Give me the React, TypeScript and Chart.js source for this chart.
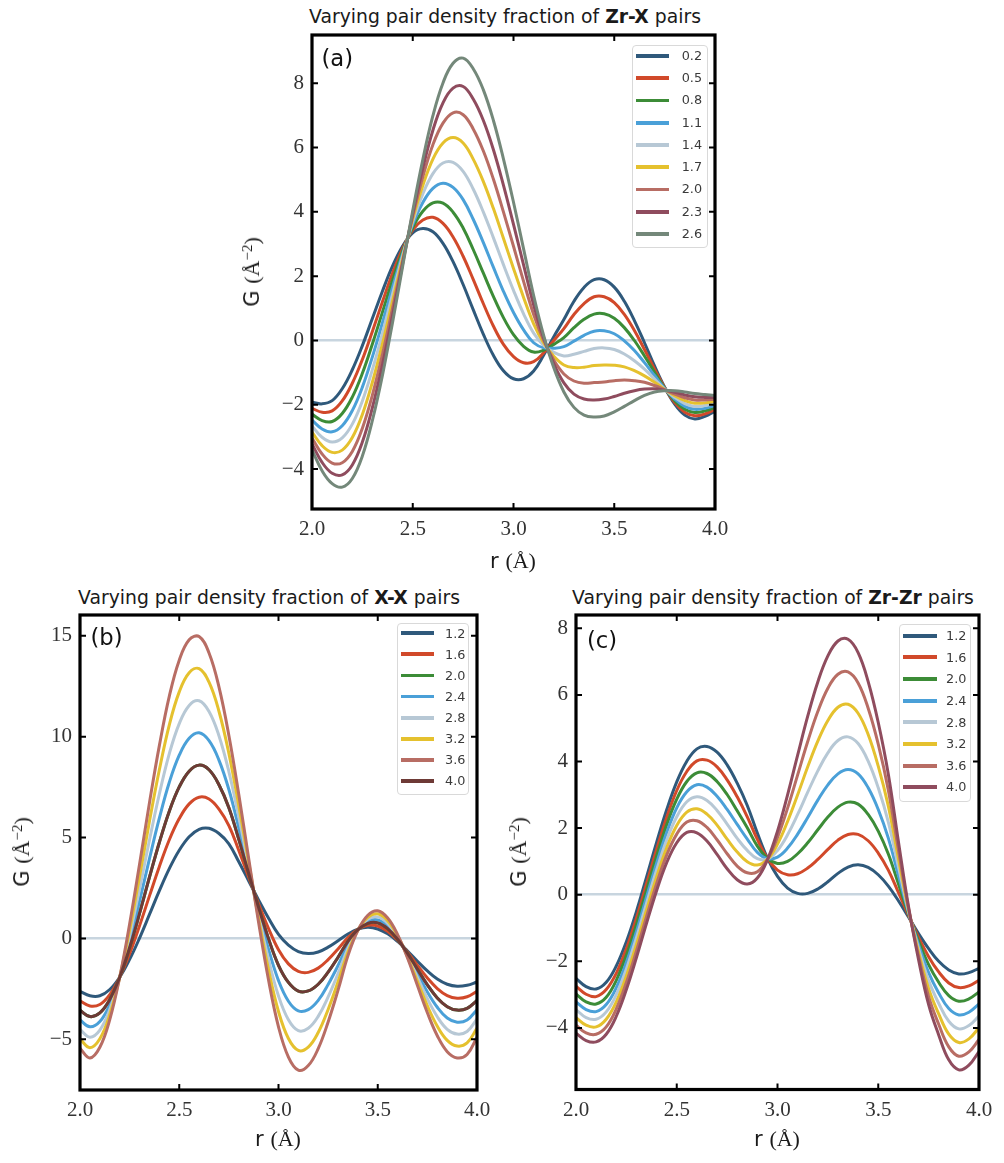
import React, { useEffect, useRef } from "react";
import { Chart, registerables } from "chart.js";

Chart.register(...registerables);

// ---------- shared r grid (Å) ----------
const R_GRID = [
  2.0, 2.05, 2.1, 2.15, 2.2, 2.25, 2.3, 2.35, 2.4, 2.45, 2.5, 2.55, 2.6, 2.65, 2.7, 2.75, 2.8, 2.85, 2.9, 2.95,
  3.0, 3.05, 3.1, 3.15, 3.2, 3.25, 3.3, 3.35, 3.4, 3.45, 3.5, 3.55, 3.6, 3.65, 3.7, 3.75, 3.8, 3.85, 3.9, 3.95, 4.0,
];

// ---------- colours ----------
const C_BLUE = "#2f597b";
const C_RED = "#d1492a";
const C_GREEN = "#3c8c37";
const C_LBLUE = "#4aa0d8";
const C_GRAY = "#b7c8d5";
const C_YELLOW = "#e5c12e";
const C_ROSE = "#b86d64";
const C_PLUM = "#8f4c5e";
const C_GGREEN = "#74887a";
const C_BROWN = "#6e3a36";

// ---------- (a) Zr-X ----------
const ZRX_LABELS = ["0.2", "0.5", "0.8", "1.1", "1.4", "1.7", "2.0", "2.3", "2.6"];
const ZRX_0_2 = [-1.92,-1.97,-1.87,-1.5,-0.91,-0.16,0.69,1.54,2.32,2.94,3.35,3.48,3.38,3.02,2.45,1.74,0.96,0.2,-0.46,-0.94,-1.19,-1.19,-0.95,-0.45,0.12,0.65,1.22,1.65,1.89,1.89,1.66,1.22,0.62,-0.07,-0.79,-1.45,-1.98,-2.32,-2.44,-2.36,-2.2];
const ZRX_0_5 = [-2.11,-2.23,-2.19,-1.88,-1.33,-0.59,0.29,1.21,2.1,2.86,3.44,3.75,3.83,3.64,3.22,2.62,1.9,1.15,0.45,-0.12,-0.5,-0.69,-0.66,-0.38,0.0,0.37,0.81,1.15,1.36,1.36,1.18,0.81,0.31,-0.28,-0.89,-1.46,-1.93,-2.23,-2.34,-2.28,-2.14];
const ZRX_0_8 = [-2.29,-2.49,-2.52,-2.27,-1.76,-1.02,-0.1,0.89,1.88,2.78,3.52,4.02,4.28,4.27,3.99,3.5,2.83,2.1,1.37,0.71,0.18,-0.18,-0.36,-0.3,-0.12,0.09,0.4,0.66,0.82,0.83,0.69,0.4,0.0,-0.48,-0.99,-1.48,-1.87,-2.14,-2.24,-2.19,-2.08];
const ZRX_1_1 = [-2.48,-2.75,-2.84,-2.65,-2.18,-1.45,-0.5,0.56,1.66,2.7,3.61,4.29,4.73,4.89,4.76,4.38,3.77,3.05,2.28,1.53,0.87,0.33,-0.07,-0.23,-0.24,-0.19,-0.02,0.16,0.29,0.3,0.21,-0.01,-0.31,-0.69,-1.09,-1.49,-1.82,-2.05,-2.14,-2.11,-2.02];
const ZRX_1_4 = [-2.66,-3.01,-3.16,-3.03,-2.6,-1.88,-0.9,0.23,1.45,2.63,3.7,4.56,5.19,5.52,5.54,5.26,4.71,4.0,3.2,2.36,1.56,0.83,0.23,-0.15,-0.37,-0.48,-0.43,-0.34,-0.25,-0.23,-0.28,-0.42,-0.63,-0.89,-1.2,-1.51,-1.77,-1.96,-2.05,-2.02,-1.96];
const ZRX_1_7 = [-2.85,-3.27,-3.48,-3.41,-3.02,-2.3,-1.29,-0.09,1.23,2.55,3.78,4.82,5.64,6.14,6.31,6.14,5.64,4.95,4.11,3.18,2.24,1.34,0.52,-0.08,-0.49,-0.76,-0.84,-0.83,-0.78,-0.76,-0.77,-0.82,-0.94,-1.1,-1.3,-1.52,-1.72,-1.87,-1.95,-1.94,-1.89];
const ZRX_2_0 = [-3.03,-3.53,-3.81,-3.8,-3.45,-2.73,-1.69,-0.42,1.01,2.47,3.87,5.09,6.09,6.76,7.08,7.02,6.58,5.9,5.02,4.0,2.93,1.84,0.81,0.0,-0.61,-1.04,-1.26,-1.33,-1.31,-1.29,-1.25,-1.23,-1.25,-1.3,-1.4,-1.53,-1.67,-1.78,-1.85,-1.85,-1.83];
const ZRX_2_3 = [-3.22,-3.79,-4.13,-4.18,-3.87,-3.16,-2.08,-0.74,0.79,2.39,3.95,5.36,6.54,7.39,7.85,7.9,7.51,6.85,5.94,4.83,3.61,2.35,1.11,0.08,-0.73,-1.32,-1.67,-1.82,-1.85,-1.82,-1.74,-1.64,-1.56,-1.51,-1.5,-1.55,-1.61,-1.69,-1.75,-1.77,-1.77];
const ZRX_2_6 = [-3.4,-4.05,-4.45,-4.56,-4.29,-3.59,-2.48,-1.07,0.57,2.31,4.04,5.63,6.99,8.01,8.62,8.78,8.45,7.8,6.85,5.65,4.3,2.85,1.4,0.15,-0.85,-1.6,-2.08,-2.32,-2.38,-2.35,-2.22,-2.05,-1.87,-1.71,-1.6,-1.56,-1.56,-1.6,-1.65,-1.68,-1.71];

// ---------- (b) X-X ----------
const XX_LABELS = ["1.2", "1.6", "2.0", "2.4", "2.8", "3.2", "3.6", "4.0"];
const XX_1_2 = [-2.62,-2.84,-2.84,-2.53,-1.92,-1.04,0.02,1.19,2.37,3.46,4.37,5.04,5.41,5.46,5.2,4.69,3.8,2.85,1.9,1.0,0.2,-0.33,-0.65,-0.75,-0.67,-0.43,-0.11,0.22,0.46,0.55,0.47,0.23,-0.15,-0.62,-1.13,-1.61,-2.01,-2.27,-2.37,-2.32,-2.16];
const XX_1_6 = [-3.09,-3.35,-3.27,-2.78,-1.92,-0.75,0.63,2.11,3.57,4.89,5.94,6.67,7.0,6.91,6.41,5.59,4.36,3.03,1.71,0.49,-0.56,-1.26,-1.63,-1.68,-1.47,-1.05,-0.52,0.04,0.45,0.65,0.62,0.36,-0.09,-0.68,-1.33,-1.96,-2.48,-2.83,-2.96,-2.89,-2.62];
const XX_2_0 = [-3.56,-3.87,-3.69,-3.03,-1.92,-0.45,1.24,3.04,4.77,6.31,7.51,8.29,8.59,8.36,7.62,6.48,4.91,3.22,1.53,-0.02,-1.33,-2.18,-2.61,-2.6,-2.27,-1.67,-0.93,-0.14,0.44,0.75,0.77,0.49,-0.04,-0.74,-1.53,-2.3,-2.95,-3.38,-3.55,-3.46,-3.07];
const XX_2_4 = [-4.04,-4.38,-4.12,-3.27,-1.92,-0.16,1.85,3.96,5.97,7.74,9.08,9.92,10.19,9.8,8.84,7.38,5.47,3.4,1.34,-0.54,-2.09,-3.11,-3.59,-3.53,-3.07,-2.28,-1.34,-0.31,0.43,0.85,0.92,0.62,0.02,-0.8,-1.73,-2.65,-3.41,-3.94,-4.15,-4.04,-3.53];
const XX_2_8 = [-4.51,-4.89,-4.54,-3.52,-1.92,0.13,2.46,4.88,7.17,9.16,10.65,11.55,11.78,11.25,10.05,8.27,6.02,3.58,1.15,-1.05,-2.85,-4.03,-4.57,-4.45,-3.86,-2.9,-1.74,-0.49,0.42,0.95,1.07,0.75,0.08,-0.85,-1.93,-2.99,-3.88,-4.5,-4.74,-4.61,-3.99];
const XX_3_2 = [-4.98,-5.41,-4.97,-3.77,-1.92,0.43,3.07,5.81,8.37,10.59,12.22,13.17,13.37,12.7,11.26,9.17,6.58,3.77,0.97,-1.56,-3.62,-4.96,-5.55,-5.38,-4.66,-3.52,-2.15,-0.67,0.41,1.05,1.22,0.88,0.13,-0.91,-2.13,-3.34,-4.35,-5.05,-5.33,-5.18,-4.44];
const XX_3_6 = [-5.45,-5.92,-5.39,-4.02,-1.92,0.72,3.68,6.73,9.57,12.01,13.79,14.8,14.96,14.15,12.47,10.06,7.13,3.95,0.78,-2.07,-4.38,-5.88,-6.53,-6.3,-5.46,-4.14,-2.56,-0.85,0.4,1.15,1.37,1.01,0.19,-0.97,-2.33,-3.68,-4.82,-5.61,-5.92,-5.75,-4.9];
const XX_4_0 = [-3.56,-3.87,-3.69,-3.03,-1.92,-0.45,1.24,3.04,4.77,6.31,7.51,8.29,8.59,8.36,7.62,6.48,4.91,3.22,1.53,-0.02,-1.33,-2.18,-2.61,-2.6,-2.27,-1.67,-0.93,-0.14,0.44,0.75,0.77,0.49,-0.04,-0.74,-1.53,-2.3,-2.95,-3.38,-3.55,-3.46,-3.07];

// ---------- (c) Zr-Zr ----------
const ZRZR_LABELS = ["1.2", "1.6", "2.0", "2.4", "2.8", "3.2", "3.6", "4.0"];
const ZRZR_1_2 = [-2.51,-2.76,-2.83,-2.63,-2.14,-1.41,-0.5,0.53,1.57,2.55,3.39,4.01,4.38,4.45,4.28,3.9,3.35,2.68,1.85,1.1,0.55,0.2,0.04,0.04,0.17,0.39,0.64,0.83,0.9,0.82,0.6,0.26,-0.18,-0.67,-1.17,-1.62,-2.0,-2.26,-2.38,-2.34,-2.21];
const ZRZR_1_6 = [-2.75,-2.99,-3.06,-2.85,-2.36,-1.62,-0.7,0.33,1.36,2.32,3.13,3.7,4.02,4.04,3.84,3.45,2.94,2.34,1.66,1.09,0.74,0.6,0.63,0.8,1.06,1.36,1.64,1.81,1.81,1.62,1.25,0.74,0.07,-0.62,-1.28,-1.86,-2.32,-2.65,-2.79,-2.74,-2.57];
const ZRZR_2_0 = [-2.98,-3.22,-3.28,-3.08,-2.57,-1.82,-0.9,0.13,1.16,2.1,2.87,3.4,3.66,3.64,3.4,3.01,2.52,2.01,1.46,1.09,0.94,1.0,1.23,1.56,1.95,2.33,2.63,2.78,2.72,2.41,1.91,1.22,0.33,-0.58,-1.39,-2.1,-2.63,-3.03,-3.2,-3.13,-2.92];
const ZRZR_2_4 = [-3.22,-3.45,-3.51,-3.3,-2.79,-2.03,-1.1,-0.07,0.95,1.87,2.61,3.09,3.3,3.23,2.96,2.56,2.11,1.67,1.27,1.08,1.13,1.4,1.82,2.32,2.84,3.3,3.63,3.76,3.63,3.21,2.56,1.7,0.58,-0.53,-1.5,-2.34,-2.95,-3.42,-3.61,-3.53,-3.28];
const ZRZR_2_8 = [-3.45,-3.69,-3.74,-3.52,-3.0,-2.23,-1.29,-0.26,0.74,1.64,2.34,2.79,2.94,2.83,2.53,2.12,1.69,1.33,1.08,1.07,1.33,1.8,2.41,3.08,3.72,4.26,4.63,4.74,4.54,4.01,3.21,2.18,0.84,-0.49,-1.62,-2.58,-3.26,-3.8,-4.03,-3.93,-3.64];
const ZRZR_3_2 = [-3.69,-3.92,-3.97,-3.74,-3.22,-2.44,-1.49,-0.46,0.53,1.41,2.08,2.48,2.58,2.42,2.09,1.67,1.28,0.99,0.89,1.06,1.52,2.2,3.0,3.84,4.61,5.23,5.63,5.72,5.45,4.81,3.86,2.66,1.09,-0.44,-1.73,-2.82,-3.58,-4.19,-4.44,-4.33,-3.99];
const ZRZR_3_6 = [-3.92,-4.15,-4.19,-3.97,-3.43,-2.64,-1.69,-0.66,0.33,1.19,1.82,2.18,2.22,2.02,1.65,1.23,0.86,0.66,0.69,1.06,1.72,2.6,3.6,4.6,5.5,6.2,6.62,6.69,6.36,5.6,4.52,3.14,1.35,-0.4,-1.84,-3.06,-3.89,-4.57,-4.85,-4.72,-4.35];
const ZRZR_4_0 = [-4.16,-4.38,-4.42,-4.19,-3.65,-2.85,-1.89,-0.86,0.12,0.96,1.56,1.87,1.86,1.61,1.21,0.78,0.45,0.32,0.5,1.05,1.91,3.0,4.19,5.36,6.39,7.17,7.62,7.67,7.27,6.4,5.17,3.62,1.6,-0.35,-1.95,-3.3,-4.21,-4.96,-5.26,-5.12,-4.71];

// ---------- fonts ----------
const SANS = "'DejaVu Sans', sans-serif";
const SERIF = "'Liberation Serif', 'DejaVu Serif', serif";

// frame + inward ticks drawn from the library scales
const framePlugin = {
  id: "frameTicks",
  afterDraw(chart: any) {
    const { ctx, chartArea } = chart;
    const { left, right, top, bottom } = chartArea;
    const xs = chart.scales.x;
    const ys = chart.scales.y;
    const L = 6;
    ctx.save();
    ctx.strokeStyle = "#000";
    ctx.lineWidth = 2;
    ctx.beginPath();
    xs.ticks.forEach((t: any) => {
      const px = xs.getPixelForValue(t.value);
      ctx.moveTo(px, bottom);
      ctx.lineTo(px, bottom - L);
      ctx.moveTo(px, top);
      ctx.lineTo(px, top + L);
    });
    ys.ticks.forEach((t: any) => {
      const py = ys.getPixelForValue(t.value);
      ctx.moveTo(left, py);
      ctx.lineTo(left + L, py);
      ctx.moveTo(right, py);
      ctx.lineTo(right - L, py);
    });
    ctx.stroke();
    ctx.lineWidth = 3.2;
    ctx.strokeRect(left, top, right - left, bottom - top);
    ctx.restore();
  },
};

type PanelProps = {
  left: number;
  top: number;
  width: number;
  height: number;
  padTop: number;
  padRight: number;
  yWidth: number;
  xHeight: number;
  yMin: number;
  yMax: number;
  yStep: number;
  labels: string[];
  series: number[][];
  colors: string[];
};

function ChartPanel(p: PanelProps) {
  const ref = useRef<HTMLCanvasElement>(null);
  useEffect(() => {
    const n = p.series.length;
    const chart = new Chart(ref.current as HTMLCanvasElement, {
      type: "line",
      data: {
        datasets: p.series.map((s, i) => ({
          label: p.labels[i],
          data: R_GRID.map((x, j) => ({ x, y: s[j] })),
          borderColor: p.colors[i],
          backgroundColor: p.colors[i],
          borderWidth: 3,
          pointRadius: 0,
          tension: 0.4,
          fill: false,
          order: n - 1 - i,
        })),
      },
      options: {
        animation: false,
        responsive: false,
        maintainAspectRatio: false,
        layout: { padding: { top: p.padTop, right: p.padRight, left: 0, bottom: 0 } },
        plugins: { legend: { display: false }, tooltip: { enabled: false }, title: { display: false } },
        scales: {
          x: {
            type: "linear",
            min: 2,
            max: 4,
            afterFit: (s: any) => {
              s.height = p.xHeight;
            },
            border: { display: false },
            grid: { display: false, drawTicks: false },
            ticks: {
              stepSize: 0.5,
              includeBounds: false,
              autoSkip: false,
              maxRotation: 0,
              padding: 8,
              color: "#333",
              font: { family: SERIF, size: 21 },
              callback: (v: any) => Number(v).toFixed(1),
            },
          },
          y: {
            type: "linear",
            min: p.yMin,
            max: p.yMax,
            afterFit: (s: any) => {
              s.width = p.yWidth;
            },
            border: { display: false },
            grid: {
              drawTicks: false,
              lineWidth: 2.5,
              color: (ctx: any) => (ctx.tick && ctx.tick.value === 0 ? "#c8d5df" : "rgba(0,0,0,0)"),
            },
            ticks: {
              stepSize: p.yStep,
              includeBounds: false,
              autoSkip: false,
              padding: 8,
              color: "#333",
              font: { family: SERIF, size: 21 },
              callback: (v: any) => (Number(v) < 0 ? "\u2212" + Math.abs(Number(v)) : String(v)),
            },
          },
        },
      } as any,
      plugins: [framePlugin],
    });
    return () => chart.destroy();
  }, []);
  return (
    <canvas
      ref={ref}
      width={p.width}
      height={p.height}
      style={{ position: "absolute", left: p.left, top: p.top, width: p.width, height: p.height }}
    />
  );
}

type LegendProps = {
  left: number;
  top: number;
  width: number;
  height: number;
  firstCenter: number;
  rowH: number;
  lineLeft: number;
  lineW: number;
  labelLeft: number;
  labels: string[];
  colors: string[];
};

function Legend(p: LegendProps) {
  return (
    <div
      style={{
        position: "absolute",
        left: p.left,
        top: p.top,
        width: p.width,
        height: p.height,
        border: "1px solid #d9d9d9",
        borderRadius: 4,
        background: "rgba(255,255,255,0.85)",
        boxSizing: "border-box",
      }}
    >
      {p.labels.map((lab, i) => (
        <div
          key={lab + i}
          style={{
            position: "absolute",
            left: 0,
            top: p.firstCenter + i * p.rowH - p.rowH / 2 - 1,
            height: p.rowH,
            width: "100%",
          }}
        >
          <div
            style={{
              position: "absolute",
              left: p.lineLeft - 1,
              top: p.rowH / 2 - 1.9,
              width: p.lineW,
              height: 3.8,
              background: p.colors[i],
            }}
          />
          <div
            style={{
              position: "absolute",
              left: p.labelLeft - 1,
              top: 0,
              height: p.rowH,
              lineHeight: p.rowH + "px",
              fontFamily: SANS,
              fontSize: 12.8,
              color: "#3a3a3a",
            }}
          >
            {lab}
          </div>
        </div>
      ))}
    </div>
  );
}

function Title(props: { cx: number; top: number; bold: string }) {
  return (
    <div
      style={{
        position: "absolute",
        left: props.cx,
        top: props.top,
        transform: "translateX(-50%)",
        whiteSpace: "nowrap",
        fontFamily: SANS,
        fontSize: 18.8,
        lineHeight: 1,
        color: "#1a1a1a",
      }}
    >
      Varying pair density fraction of <b>{props.bold}</b> pairs
    </div>
  );
}

function XLabel(props: { cx: number; top: number }) {
  return (
    <div
      style={{
        position: "absolute",
        left: props.cx,
        top: props.top,
        transform: "translateX(-50%)",
        whiteSpace: "nowrap",
        lineHeight: "22px",
        color: "#1a1a1a",
      }}
    >
      <span style={{ fontFamily: SANS, fontSize: 21 }}>r </span>
      <span style={{ fontFamily: SERIF, fontSize: 22 }}>(Å)</span>
    </div>
  );
}

function YLabel(props: { cx: number; cy: number }) {
  return (
    <div
      style={{
        position: "absolute",
        left: props.cx,
        top: props.cy,
        transform: "translate(-50%,-50%) rotate(-90deg)",
        whiteSpace: "nowrap",
        lineHeight: "22px",
        color: "#1a1a1a",
      }}
    >
      <span style={{ fontFamily: SANS, fontSize: 21 }}>G </span>
      <span style={{ fontFamily: SERIF, fontSize: 22 }}>
        (Å
        <sup style={{ fontSize: 15, lineHeight: 0, verticalAlign: "7px" }}>−2</sup>)
      </span>
    </div>
  );
}

function PanelTag(props: { left: number; top: number; text: string }) {
  return (
    <div
      style={{
        position: "absolute",
        left: props.left,
        top: props.top,
        fontFamily: SANS,
        fontSize: 22.7,
        lineHeight: 1,
        color: "#111",
      }}
    >
      {props.text}
    </div>
  );
}

const COLORS_A = [C_BLUE, C_RED, C_GREEN, C_LBLUE, C_GRAY, C_YELLOW, C_ROSE, C_PLUM, C_GGREEN];
const COLORS_B = [C_BLUE, C_RED, C_GREEN, C_LBLUE, C_GRAY, C_YELLOW, C_ROSE, C_BROWN];
const COLORS_C = [C_BLUE, C_RED, C_GREEN, C_LBLUE, C_GRAY, C_YELLOW, C_ROSE, C_PLUM];

export default function App() {
  const seriesA = [ZRX_0_2, ZRX_0_5, ZRX_0_8, ZRX_1_1, ZRX_1_4, ZRX_1_7, ZRX_2_0, ZRX_2_3, ZRX_2_6];
  const seriesB = [XX_1_2, XX_1_6, XX_2_0, XX_2_4, XX_2_8, XX_3_2, XX_3_6, XX_4_0];
  const seriesC = [ZRZR_1_2, ZRZR_1_6, ZRZR_2_0, ZRZR_2_4, ZRZR_2_8, ZRZR_3_2, ZRZR_3_6, ZRZR_4_0];
  return (
    <div style={{ position: "absolute", left: 0, top: 0, width: 1004, height: 1163, background: "#fff", overflow: "hidden" }}>
      {/* (a) */}
      <Title cx={505} top={7.5} bold="Zr-X" />
      <ChartPanel
        left={200} top={0} width={540} height={580}
        padTop={35} padRight={25} yWidth={112} xHeight={71}
        yMin={-5.24} yMax={9.5} yStep={2}
        labels={ZRX_LABELS} series={seriesA} colors={COLORS_A}
      />
      <Legend left={632} top={45} width={76} height={203} firstCenter={11} rowH={22.25}
        lineLeft={4} lineW={33} labelLeft={49.7} labels={ZRX_LABELS} colors={COLORS_A} />
      <PanelTag left={321.5} top={47} text="(a)" />
      <XLabel cx={513} top={550} />
      <YLabel cx={253} cy={272} />

      {/* (b) */}
      <Title cx={269} top={589} bold="X-X" />
      <ChartPanel
        left={0} top={580} width={500} height={580}
        padTop={35} padRight={23} yWidth={80} xHeight={70}
        yMin={-7.51} yMax={16.03} yStep={5}
        labels={XX_LABELS} series={seriesB} colors={COLORS_B}
      />
      <Legend left={397} top={623} width={72} height={172} firstCenter={10.3} rowH={21.1}
        lineLeft={4} lineW={33} labelLeft={48} labels={XX_LABELS} colors={COLORS_B} />
      <PanelTag left={90.5} top={626} text="(b)" />
      <XLabel cx={278} top={1128} />
      <YLabel cx={23} cy={852} />

      {/* (c) */}
      <Title cx={773} top={589} bold="Zr-Zr" />
      <ChartPanel
        left={500} top={580} width={504} height={580}
        padTop={35} padRight={25} yWidth={76} xHeight={70.5}
        yMin={-5.85} yMax={8.4} yStep={2}
        labels={ZRZR_LABELS} series={seriesC} colors={COLORS_C}
      />
      <Legend left={899} top={624} width={72} height={178} firstCenter={11.7} rowH={21.66}
        lineLeft={4.3} lineW={33.4} labelLeft={47} labels={ZRZR_LABELS} colors={COLORS_C} />
      <PanelTag left={587} top={629} text="(c)" />
      <XLabel cx={777} top={1128} />
      <YLabel cx={520} cy={852} />
    </div>
  );
}
